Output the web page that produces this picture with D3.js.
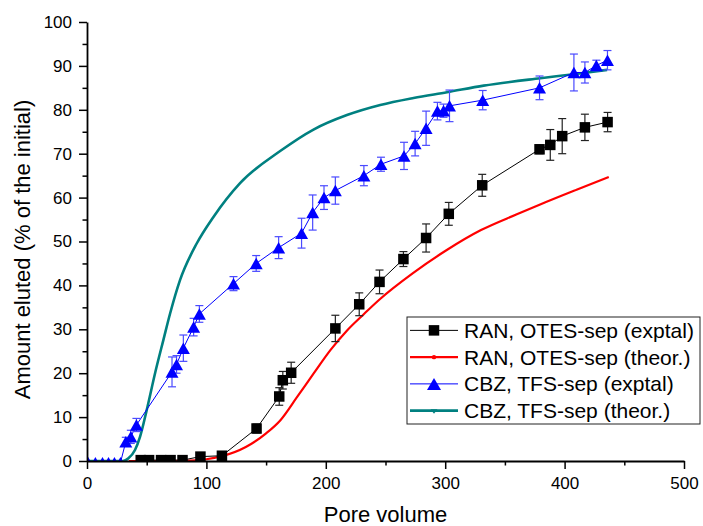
<!DOCTYPE html>
<html>
<head>
<meta charset="utf-8">
<script src="https://cdnjs.cloudflare.com/ajax/libs/d3/7.8.5/d3.min.js"></script>
<style>
  html, body { margin: 0; padding: 0; background: #fff; }
  svg { display: block; }
  text { font-family: Arial, "Liberation Sans", sans-serif; fill: #000; }
</style>
</head>
<body>
<svg id="chart" width="703" height="526"></svg>
<script>
// ---------------- data ----------------
const xTicks = [0, 100, 200, 300, 400, 500];
const yTicks = [0, 10, 20, 30, 40, 50, 60, 70, 80, 90, 100];
const xMinorTicks = [50, 150, 250, 350, 450];
const yMinorTicks = [5, 15, 25, 35, 45, 55, 65, 75, 85, 95];

const seriesNames = ["RAN, OTES-sep (exptal)", "RAN, OTES-sep (theor.)", "CBZ, TFS-sep (exptal)", "CBZ, TFS-sep (theor.)"];

const ranExpX = [45, 52, 62, 70, 80, 95, 113, 142, 161, 164, 171, 208, 228, 245, 265, 284, 303, 331, 379, 388, 398, 417, 436];
const ranExpY = [0.2, 0.2, 0.2, 0.2, 0.2, 1.0, 1.2, 7.4, 14.7, 18.4, 20.1, 30.2, 35.7, 40.8, 46.0, 50.8, 56.3, 62.8, 71.0, 72.0, 74.0, 76.0, 77.2];
const ranExpErr = [0, 0, 0, 0, 0, 0, 0, 1.0, 2.0, 2.0, 2.4, 3.0, 2.6, 2.7, 1.7, 3.2, 2.6, 2.5, 1.0, 3.5, 4.0, 3.0, 2.2];

const ranTheoX = [35, 60, 80, 100, 113, 133, 150, 162, 176, 190, 204, 218, 232, 245, 273, 301, 330, 360, 380, 410, 437];
const ranTheoY = [0, 0, 0.05, 0.4, 1.1, 3.2, 6.3, 9.3, 14.6, 20.0, 25.3, 29.8, 33.5, 36.8, 42.8, 48.0, 52.6, 56.2, 58.5, 61.8, 64.7];

const cbzExpX = [1, 7, 13, 18, 23, 28, 32.5, 36.7, 41.4, 71.2, 75, 80.7, 89.3, 94.1, 122.7, 141.7, 160.5, 179.7, 189, 198.5, 208, 231.9, 246.2, 265.5, 274.8, 284, 293.5, 298.6, 303.6, 331.4, 379, 407.8, 417, 426.6, 435.9];
const cbzExpY = [-0.4, -0.4, -0.4, -0.4, -0.4, -0.4, 4.4, 5.5, 8.2, 20.3, 22.0, 25.7, 30.5, 33.5, 40.4, 45.0, 48.6, 51.9, 56.6, 60.0, 61.6, 65.0, 67.6, 69.5, 72.3, 75.8, 79.7, 79.8, 80.9, 82.2, 85.0, 88.5, 88.5, 90.1, 91.3];
const cbzExpErr = [0, 0, 0, 0, 0, 0, 1.0, 1.5, 1.5, 3.4, 2.0, 3.0, 2.0, 1.9, 1.6, 1.8, 2.5, 3.4, 4.0, 2.7, 3.1, 2.3, 1.6, 3.1, 2.8, 3.9, 2.0, 1.5, 3.6, 2.2, 2.7, 4.2, 2.4, 1.2, 2.2];

const cbzTheoX = [0, 30, 34.7, 40.2, 44.4, 50, 57, 64, 69.6, 77.9, 92, 105.9, 128.2, 161.8, 189.7, 217.7, 245.6, 273.5, 301.5, 332.2, 379.7, 407.6, 435.6];
const cbzTheoY = [0, 0, 0.6, 2.5, 5.5, 11.6, 20.0, 27.6, 33.6, 41.2, 49.6, 55.6, 63.3, 70.6, 75.5, 78.8, 81.1, 82.7, 84.0, 85.5, 87.2, 88.1, 89.1];

// ---------------- layout ----------------
const svg = d3.select("#chart");
const L = 87, R = 684, T = 22, B = 461;
const x = d3.scaleLinear().domain([0, 500]).range([L, R]);
const y = d3.scaleLinear().domain([0, 100]).range([B, T]);

const BLACK = "#000000", RED = "#ff0000", BLUE = "#0000ff", TEAL = "#008080";
const BLUE_ERR = "#4a4aff";

svg.append("defs").append("clipPath").attr("id", "plotclip")
  .append("rect").attr("x", L).attr("y", T).attr("width", R - L).attr("height", B - T);

const zip = (xs, ys) => xs.map((v, i) => [v, ys[i]]);

// ---------------- marks ----------------
const plot = svg.append("g").attr("clip-path", "url(#plotclip)");

// theoretical curves
const lineSmooth = d3.line().x(d => x(d[0])).y(d => y(d[1])).curve(d3.curveMonotoneX);
plot.append("path").datum(zip(ranTheoX, ranTheoY))
  .attr("d", lineSmooth).attr("fill", "none").attr("stroke", RED).attr("stroke-width", 2.2);
plot.append("path").datum(zip(cbzTheoX, cbzTheoY))
  .attr("d", lineSmooth).attr("fill", "none").attr("stroke", TEAL).attr("stroke-width", 2.6);

// experimental lines
const lineStraight = d3.line().x(d => x(d[0])).y(d => y(d[1]));
plot.append("path").datum(zip(ranExpX, ranExpY))
  .attr("d", lineStraight).attr("fill", "none").attr("stroke", BLACK).attr("stroke-width", 1);
plot.append("path").datum(zip(cbzExpX, cbzExpY))
  .attr("d", lineStraight).attr("fill", "none").attr("stroke", BLUE).attr("stroke-width", 1);

// error bars
function errorBars(xs, ys, es, color) {
  const g = plot.append("g").attr("stroke", color).attr("stroke-width", 1.2).attr("fill", "none");
  xs.forEach((xv, i) => {
    if (!es[i]) return;
    const cx = x(xv), y1 = y(ys[i] + es[i]), y2 = y(ys[i] - es[i]);
    g.append("line").attr("x1", cx).attr("x2", cx).attr("y1", y1).attr("y2", y2);
    g.append("line").attr("x1", cx - 4).attr("x2", cx + 4).attr("y1", y1).attr("y2", y1);
    g.append("line").attr("x1", cx - 4).attr("x2", cx + 4).attr("y1", y2).attr("y2", y2);
  });
}
errorBars(ranExpX, ranExpY, ranExpErr, "#222");
errorBars(cbzExpX, cbzExpY, cbzExpErr, BLUE_ERR);

// markers
const SQ = 10.5;
plot.append("g").selectAll("rect").data(zip(ranExpX, ranExpY)).join("rect")
  .attr("x", d => x(d[0]) - SQ / 2).attr("y", d => y(d[1]) - SQ / 2)
  .attr("width", SQ).attr("height", SQ).attr("fill", BLACK);

const TW = 13, TH = 11.5;
const triPath = (cx, cy, w, h) => `M${cx},${cy - h / 2}L${cx + w / 2},${cy + h / 2}L${cx - w / 2},${cy + h / 2}Z`;
plot.append("g").selectAll("path").data(zip(cbzExpX, cbzExpY)).join("path")
  .attr("d", d => triPath(x(d[0]), y(d[1]), TW, TH)).attr("fill", BLUE);

// ---------------- axes ----------------
const fontTick = 17;
svg.append("g").attr("transform", `translate(0,${B})`)
  .call(d3.axisBottom(x).tickValues(xTicks).tickFormat(d3.format("d")).tickSize(8).tickPadding(8).tickSizeOuter(0));
svg.append("g").attr("transform", `translate(0,${B})`)
  .call(d3.axisBottom(x).tickValues(xMinorTicks).tickFormat("").tickSize(4.5).tickSizeOuter(0))
  .select(".domain").remove();
svg.append("g").attr("transform", `translate(${L},0)`)
  .call(d3.axisLeft(y).tickValues(yTicks).tickFormat(d3.format("d")).tickSize(8).tickPadding(7).tickSizeOuter(0));
svg.append("g").attr("transform", `translate(${L},0)`)
  .call(d3.axisLeft(y).tickValues(yMinorTicks).tickFormat("").tickSize(4.5).tickSizeOuter(0))
  .select(".domain").remove();

svg.selectAll(".domain").attr("stroke", BLACK).attr("stroke-width", 1.8);
svg.selectAll(".tick line").attr("stroke", BLACK).attr("stroke-width", 1.5);
svg.selectAll(".tick text").attr("font-size", fontTick)
  .attr("font-family", 'Arial, "Liberation Sans", sans-serif').attr("fill", BLACK);

// axis titles
svg.append("text").attr("x", (L + R) / 2).attr("y", 522).attr("text-anchor", "middle")
  .attr("font-size", 22).text("Pore volume");
svg.append("text").attr("transform", `translate(30,${(T + B) / 2 + 8}) rotate(-90)`)
  .attr("text-anchor", "middle").attr("font-size", 22).text("Amount eluted (% of the initial)");

// ---------------- legend ----------------
const LX0 = 407, LX1 = 700, LY0 = 317, LY1 = 424;
const leg = svg.append("g");
leg.append("rect").attr("x", LX0).attr("y", LY0).attr("width", LX1 - LX0).attr("height", LY1 - LY0)
  .attr("fill", "#fff").attr("stroke", "#222").attr("stroke-width", 1);
const rowH = (LY1 - LY0) / 4;
const legendStyles = [
  { color: BLACK, width: 1, marker: "square" },
  { color: RED, width: 2.2, marker: "dot" },
  { color: BLUE, width: 1, marker: "triangle" },
  { color: TEAL, width: 2.6, marker: "down" }
];
seriesNames.forEach((name, i) => {
  const cy = LY0 + rowH * (i + 0.5);
  const st = legendStyles[i];
  leg.append("line").attr("x1", 410).attr("x2", 458).attr("y1", cy).attr("y2", cy)
    .attr("stroke", st.color).attr("stroke-width", st.width);
  if (st.marker === "square") {
    leg.append("rect").attr("x", 434 - SQ / 2).attr("y", cy - SQ / 2).attr("width", SQ).attr("height", SQ).attr("fill", st.color);
  } else if (st.marker === "dot") {
    leg.append("circle").attr("cx", 434).attr("cy", cy).attr("r", 2.2).attr("fill", st.color);
  } else if (st.marker === "triangle") {
    leg.append("path").attr("d", triPath(434, cy, 14, 12)).attr("fill", st.color);
  } else {
    leg.append("path").attr("d", `M430.5,${cy - 1.5}L437.5,${cy - 1.5}L434,${cy + 3}Z`).attr("fill", st.color);
  }
  leg.append("text").attr("x", 464).attr("y", cy).attr("dy", "0.36em")
    .attr("font-size", 21).text(name);
});
</script>
</body>
</html>
